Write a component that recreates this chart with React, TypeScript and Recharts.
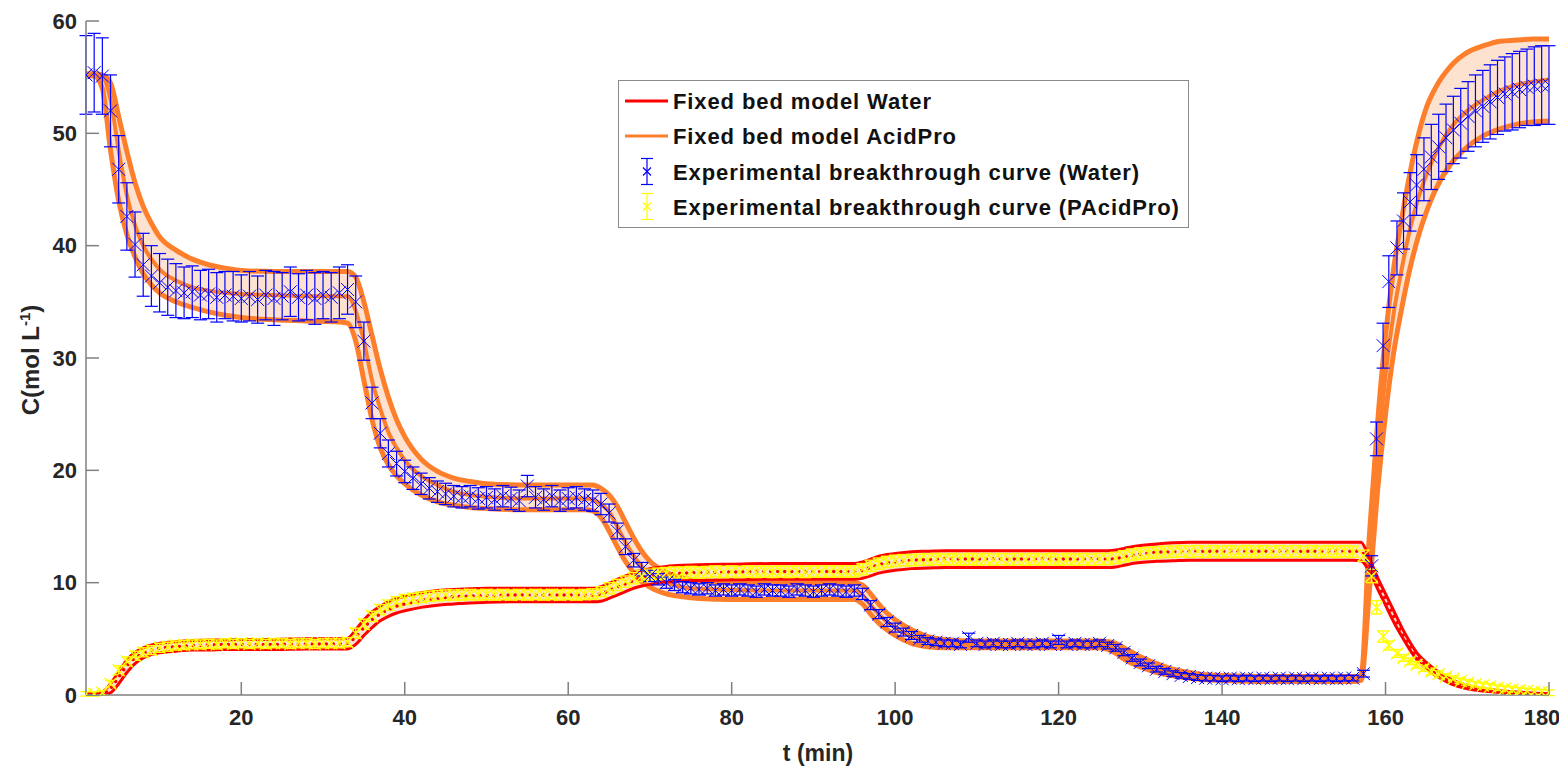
import React from "react";
import { ComposedChart, Line, Area, Scatter, ErrorBar, XAxis, YAxis } from "recharts";

// model time grid (min)
const tModel = [
  1, 2, 3, 4, 5, 6, 7, 8, 9, 10,
  12, 14, 16, 18, 20, 24, 28, 32, 33, 34,
  35, 36, 37, 38, 39, 40, 42, 44, 46, 48,
  50, 54, 58, 62, 63, 64, 65, 66, 67, 68,
  69, 70, 72, 74, 76, 80, 85, 90, 95, 96,
  97, 98, 99, 100, 102, 104, 106, 110, 115, 120,
  125, 126, 127, 128, 129, 130, 132, 134, 136, 138,
  142, 146, 150, 154, 156, 157, 158, 159, 160, 161,
  162, 163, 164, 165, 166, 168, 170, 172, 174, 176,
  178, 180,
];

// fixed bed model, water (orange band)
const wUp = [
  55.3, 55.3, 55.2, 54.5, 51.5, 48.4, 45.6, 43.5, 42.0, 40.8,
  39.6, 38.8, 38.3, 38.0, 37.8, 37.7, 37.7, 37.7, 37.7, 37.2,
  35.0, 32.0, 29.0, 26.5, 24.5, 23.0, 21.0, 19.9, 19.3, 19.0,
  18.8, 18.7, 18.7, 18.7, 18.7, 18.4, 17.8, 16.8, 15.4, 14.0,
  12.8, 11.9, 10.9, 10.4, 10.2, 10.05, 10.0, 10.0, 10.0, 9.8,
  9.0, 8.1, 7.3, 6.7, 5.8, 5.2, 4.95, 4.8, 4.8, 4.8,
  4.8, 4.75, 4.6, 4.2, 3.8, 3.4, 2.8, 2.3, 2.0, 1.8,
  1.7, 1.65, 1.65, 1.65, 1.65, 1.7, 14.0, 24.0, 32.0, 38.0,
  42.5, 46.5, 49.8, 52.3, 53.9, 56.0, 57.2, 57.8, 58.2, 58.3,
  58.4, 58.4,
];
const wMid = [
  55.2, 55.2, 55.0, 53.0, 48.5, 44.5, 41.8, 40.0, 38.8, 37.9,
  36.9, 36.3, 36.0, 35.8, 35.7, 35.6, 35.5, 35.5, 35.5, 34.2,
  31.5, 28.0, 25.5, 23.4, 22.0, 20.9, 19.5, 18.7, 18.1, 17.8,
  17.65, 17.5, 17.5, 17.5, 17.4, 17.0, 16.3, 15.0, 13.6, 12.4,
  11.4, 10.7, 10.0, 9.6, 9.45, 9.35, 9.3, 9.3, 9.3, 8.9,
  8.0, 7.2, 6.5, 6.0, 5.2, 4.8, 4.6, 4.5, 4.5, 4.5,
  4.5, 4.4, 4.1, 3.6, 3.2, 2.9, 2.3, 1.95, 1.7, 1.55,
  1.45, 1.4, 1.4, 1.4, 1.4, 1.5, 11.0, 21.0, 28.5, 34.0,
  38.0, 41.5, 44.2, 46.3, 48.0, 50.5, 52.0, 53.0, 53.8, 54.3,
  54.6, 54.8,
];
const wLow = [
  55.1, 55.1, 54.0, 48.5, 44.0, 41.0, 39.0, 37.5, 36.5, 35.8,
  35.0, 34.5, 34.1, 33.8, 33.6, 33.4, 33.3, 33.2, 33.1, 31.5,
  28.0, 24.5, 22.0, 20.5, 19.5, 18.8, 17.8, 17.2, 16.9, 16.7,
  16.6, 16.5, 16.5, 16.5, 16.4, 15.8, 14.6, 13.2, 11.9, 10.9,
  10.1, 9.6, 9.0, 8.75, 8.6, 8.5, 8.5, 8.5, 8.5, 8.1,
  7.2, 6.4, 5.8, 5.3, 4.6, 4.3, 4.2, 4.2, 4.2, 4.2,
  4.2, 4.05, 3.7, 3.2, 2.8, 2.5, 2.0, 1.7, 1.5, 1.35,
  1.25, 1.2, 1.2, 1.2, 1.2, 1.3, 9.0, 18.0, 25.0, 30.5,
  34.5, 38.0, 40.8, 43.0, 44.8, 47.3, 48.8, 49.8, 50.4, 50.8,
  51.0, 51.1,
];

// fixed bed model, AcidPro (red band)
const aUp = [
  0.2, 0.2, 0.3, 1.0, 2.1, 3.1, 3.8, 4.2, 4.45, 4.6,
  4.75, 4.85, 4.9, 4.9, 4.95, 4.95, 5.0, 5.0, 5.05, 5.8,
  6.7, 7.4, 7.9, 8.3, 8.6, 8.8, 9.1, 9.3, 9.4, 9.45,
  9.5, 9.5, 9.5, 9.5, 9.5, 9.65, 9.95, 10.3, 10.6, 10.9,
  11.1, 11.25, 11.45, 11.55, 11.6, 11.65, 11.7, 11.7, 11.7, 11.85,
  12.1, 12.35, 12.5, 12.6, 12.75, 12.8, 12.85, 12.85, 12.85, 12.85,
  12.85, 12.85, 12.9, 13.05, 13.2, 13.3, 13.45, 13.55, 13.6, 13.6,
  13.6, 13.6, 13.6, 13.6, 13.6, 13.6, 12.2, 10.5, 9.0, 7.5,
  6.0, 4.7, 3.6, 2.9, 2.3, 1.4, 0.85, 0.55, 0.38, 0.27,
  0.18, 0.12,
];
const aMid = [
  0.05, 0.05, 0.1, 0.6, 1.6, 2.6, 3.3, 3.7, 4.0, 4.15,
  4.3, 4.4, 4.45, 4.5, 4.5, 4.5, 4.55, 4.55, 4.6, 5.2,
  6.0, 6.7, 7.2, 7.6, 7.9, 8.1, 8.4, 8.6, 8.75, 8.8,
  8.85, 8.9, 8.9, 8.9, 8.9, 9.0, 9.3, 9.6, 9.9, 10.2,
  10.4, 10.55, 10.75, 10.85, 10.9, 10.95, 11.0, 11.0, 11.0, 11.1,
  11.35, 11.6, 11.75, 11.85, 12.0, 12.05, 12.1, 12.1, 12.1, 12.1,
  12.1, 12.1, 12.15, 12.3, 12.45, 12.55, 12.7, 12.75, 12.8, 12.8,
  12.8, 12.8, 12.8, 12.8, 12.8, 12.75, 11.6, 10.0, 8.5, 7.0,
  5.6, 4.3, 3.3, 2.6, 2.0, 1.2, 0.7, 0.45, 0.3, 0.2,
  0.12, 0.08,
];
const aLow = [
  0.0, 0.0, 0.0, 0.2, 1.0, 2.0, 2.8, 3.3, 3.6, 3.75,
  3.9, 4.0, 4.0, 4.05, 4.05, 4.05, 4.1, 4.1, 4.1, 4.5,
  5.3, 6.0, 6.6, 7.0, 7.3, 7.5, 7.8, 8.0, 8.1, 8.2,
  8.25, 8.3, 8.3, 8.3, 8.3, 8.35, 8.6, 8.9, 9.2, 9.5,
  9.7, 9.85, 10.05, 10.15, 10.2, 10.25, 10.3, 10.3, 10.3, 10.4,
  10.6, 10.85, 11.0, 11.1, 11.25, 11.3, 11.35, 11.35, 11.35, 11.35,
  11.35, 11.35, 11.4, 11.55, 11.7, 11.8, 11.9, 11.95, 12.0, 12.0,
  12.0, 12.0, 12.0, 12.0, 12.0, 11.95, 11.0, 9.5, 8.0, 6.5,
  5.2, 4.0, 3.0, 2.3, 1.8, 1.0, 0.55, 0.35, 0.22, 0.14,
  0.08, 0.05,
];

// experimental sampling times: every minute, then the recorded times of the final step
const tExp = [
  ...Array.from({ length: 156 }, (_, i) => i + 1),
  157.3, 158.3, 158.9, 159.7, 160.4, 161.4, 162.2, 163.0, 163.8, 164.7,
  165.6, 166.5, 167.4, 168.3, 169.2, 170.1, 171.0, 171.9, 172.8, 173.7,
  174.6, 175.5, 176.4, 177.3, 178.2, 179.1, 180.0,
];

// experimental breakthrough curve (Water)
const wExp = [
  55.2, 55.4, 55.1, 52.0, 46.8, 42.6, 40.1, 38.3, 37.3, 36.7,
  36.3, 36.0, 35.8, 35.9, 35.6, 35.7, 35.4, 35.6, 35.5, 35.3,
  35.5, 35.2, 35.6, 35.3, 35.5, 35.9, 35.4, 35.6, 35.3, 35.6,
  35.4, 35.8, 36.1, 35.0, 31.5, 26.0, 23.3, 21.5, 20.6, 19.9,
  19.3, 18.8, 18.4, 18.1, 17.9, 17.7, 17.6, 17.7, 17.5, 17.6,
  17.4, 17.7, 17.5, 17.3, 18.6, 17.6, 17.4, 17.7, 17.3, 17.5,
  17.6, 17.4, 17.3, 17.0, 16.2, 14.6, 13.2, 12.0, 11.2, 10.6,
  10.3, 10.0, 9.8, 9.6, 9.5, 9.4, 9.5, 9.3, 9.4, 9.3,
  9.4, 9.3, 9.2, 9.4, 9.3, 9.3, 9.2, 9.4, 9.3, 9.2,
  9.3, 9.4, 9.3, 9.2, 9.3, 9.0, 8.0, 7.2, 6.5, 6.0,
  5.6, 5.3, 5.0, 4.8, 4.7, 4.6, 4.6, 4.5, 5.1, 4.6,
  4.5, 4.6, 4.5, 4.5, 4.6, 4.5, 4.5, 4.6, 4.5, 4.9,
  4.5, 4.6, 4.5, 4.5, 4.6, 4.4, 4.2, 3.8, 3.3, 2.9,
  2.6, 2.3, 2.1, 1.9, 1.75, 1.65, 1.55, 1.5, 1.5, 1.45,
  1.5, 1.45, 1.5, 1.45, 1.5, 1.45, 1.5, 1.45, 1.5, 1.45,
  1.5, 1.45, 1.5, 1.45, 1.5, 1.5,
  1.9, 11.5, 22.8, 31.1, 36.8, 39.8, 42.2, 43.9, 45.4, 46.8,
  47.9, 48.8, 49.6, 50.3, 50.9, 51.5, 52.0, 52.4, 52.8, 53.2,
  53.5, 53.7, 53.9, 54.1, 54.2, 54.3, 54.3,
];
const wErr = [
  3.5, 3.5, 3.4, 3.2, 3.0, 3.0, 2.9, 2.8, 2.7, 2.6,
  2.5, 2.4, 2.3, 2.3, 2.2, 2.2, 2.2, 2.1, 2.2, 2.1,
  2.2, 2.1, 2.2, 2.4, 2.1, 2.2, 2.1, 2.2, 2.3, 2.1,
  2.2, 2.3, 2.2, 2.3, 1.7, 1.4, 1.3, 1.2, 1.1, 1.0,
  1.0, 0.95, 0.95, 0.95, 0.95, 0.95, 0.95, 0.95, 0.95, 0.95,
  0.95, 0.95, 1.0, 0.95, 0.95, 0.95, 0.95, 0.95, 0.95, 0.95,
  0.95, 0.95, 0.95, 0.95, 0.8, 0.7, 0.7, 0.6, 0.6, 0.5,
  0.5, 0.5, 0.5, 0.5, 0.5, 0.5, 0.5, 0.5, 0.5, 0.5,
  0.5, 0.5, 0.5, 0.5, 0.5, 0.5, 0.5, 0.5, 0.5, 0.5,
  0.5, 0.5, 0.5, 0.5, 0.5, 0.5, 0.4, 0.4, 0.4, 0.4,
  0.35, 0.35, 0.3, 0.3, 0.3, 0.3, 0.3, 0.3, 0.4, 0.3,
  0.3, 0.3, 0.3, 0.3, 0.3, 0.3, 0.3, 0.3, 0.3, 0.4,
  0.3, 0.3, 0.3, 0.3, 0.3, 0.3, 0.3, 0.3, 0.3, 0.3,
  0.25, 0.25, 0.25, 0.25, 0.25, 0.25, 0.25, 0.25, 0.25, 0.25,
  0.25, 0.25, 0.25, 0.25, 0.25, 0.25, 0.25, 0.25, 0.25, 0.25,
  0.25, 0.25, 0.25, 0.25, 0.25, 0.25,
  0.3, 0.9, 1.5, 2.0, 2.3, 2.4, 2.5, 2.6, 2.7, 2.8,
  2.9, 2.9, 3.0, 3.0, 3.1, 3.1, 3.2, 3.2, 3.3, 3.3,
  3.3, 3.4, 3.4, 3.4, 3.5, 3.5, 3.5,
];

// experimental breakthrough curve (PAcidPro)
const aExp = [
  0.1, 0.1, 0.2, 1.0, 2.2, 3.0, 3.5, 3.8, 4.0, 4.2,
  4.3, 4.4, 4.45, 4.5, 4.5, 4.55, 4.5, 4.6, 4.55, 4.6,
  4.55, 4.6, 4.55, 4.6, 4.6, 4.55, 4.6, 4.6, 4.55, 4.6,
  4.6, 4.6, 4.7, 5.5, 6.3, 7.0, 7.6, 8.0, 8.3, 8.5,
  8.6, 8.7, 8.8, 8.85, 8.9, 8.9, 8.9, 8.95, 8.9, 8.95,
  8.9, 8.95, 8.9, 8.95, 8.9, 8.95, 8.9, 8.95, 8.9, 8.95,
  8.9, 8.95, 9.0, 9.2, 9.5, 9.8, 10.1, 10.4, 10.6, 10.7,
  10.8, 10.85, 10.9, 10.9, 10.95, 10.9, 10.95, 11.0, 10.95, 11.0,
  10.95, 11.0, 10.95, 11.0, 10.95, 11.0, 10.95, 11.0, 10.95, 11.0,
  11.0, 11.0, 11.0, 11.0, 11.0, 11.2, 11.5, 11.7, 11.85, 11.95,
  12.0, 12.0, 12.05, 12.05, 12.1, 12.05, 12.1, 12.05, 12.1, 12.05,
  12.1, 12.05, 12.1, 12.05, 12.1, 12.05, 12.1, 12.05, 12.1, 12.05,
  12.1, 12.05, 12.1, 12.05, 12.1, 12.1, 12.2, 12.35, 12.5, 12.6,
  12.65, 12.7, 12.75, 12.75, 12.8, 12.75, 12.8, 12.75, 12.8, 12.75,
  12.8, 12.75, 12.8, 12.75, 12.8, 12.75, 12.8, 12.75, 12.8, 12.75,
  12.8, 12.75, 12.8, 12.75, 12.8, 12.75,
  12.4, 10.6, 7.8, 5.2, 4.4, 3.7, 3.3, 3.0, 2.7, 2.4,
  2.1, 1.85, 1.65, 1.45, 1.25, 1.1, 0.95, 0.85, 0.75, 0.65,
  0.55, 0.5, 0.42, 0.36, 0.3, 0.25, 0.2,
];
const aErr = [
  0.2, 0.2, 0.2, 0.3, 0.4, 0.4, 0.4, 0.4, 0.4, 0.4,
  0.4, 0.4, 0.4, 0.4, 0.4, 0.4, 0.4, 0.4, 0.4, 0.4,
  0.4, 0.4, 0.4, 0.4, 0.4, 0.4, 0.4, 0.4, 0.4, 0.4,
  0.4, 0.4, 0.4, 0.45, 0.45, 0.45, 0.45, 0.45, 0.45, 0.45,
  0.45, 0.45, 0.45, 0.45, 0.45, 0.45, 0.45, 0.45, 0.45, 0.45,
  0.45, 0.45, 0.45, 0.45, 0.45, 0.45, 0.45, 0.45, 0.45, 0.45,
  0.45, 0.45, 0.45, 0.45, 0.5, 0.5, 0.5, 0.5, 0.5, 0.5,
  0.5, 0.5, 0.5, 0.5, 0.5, 0.5, 0.5, 0.5, 0.5, 0.5,
  0.5, 0.5, 0.5, 0.5, 0.5, 0.5, 0.5, 0.5, 0.5, 0.5,
  0.5, 0.5, 0.5, 0.5, 0.5, 0.5, 0.5, 0.5, 0.5, 0.5,
  0.5, 0.5, 0.5, 0.5, 0.5, 0.5, 0.5, 0.5, 0.5, 0.5,
  0.5, 0.5, 0.5, 0.5, 0.5, 0.5, 0.5, 0.5, 0.5, 0.5,
  0.5, 0.5, 0.5, 0.5, 0.5, 0.5, 0.5, 0.5, 0.5, 0.5,
  0.5, 0.5, 0.5, 0.5, 0.5, 0.5, 0.5, 0.5, 0.5, 0.5,
  0.5, 0.5, 0.5, 0.5, 0.5, 0.5, 0.5, 0.5, 0.5, 0.5,
  0.5, 0.5, 0.5, 0.5, 0.5, 0.5,
  0.5, 0.6, 0.6, 0.5, 0.4, 0.35, 0.3, 0.3, 0.3, 0.3,
  0.3, 0.3, 0.25, 0.25, 0.25, 0.25, 0.25, 0.25, 0.25, 0.25,
  0.25, 0.25, 0.25, 0.25, 0.25, 0.25, 0.25,
];

const xTicks = [20, 40, 60, 80, 100, 120, 140, 160, 180];
const yTicks = [0, 10, 20, 30, 40, 50, 60];

const ORANGE = "#fd7f2c";
const RED = "#ff0000";
const BLUE = "#0000ff";
const YELLOW = "#ffff00";
const PEACH = "#fde2cf";
const FONT = "'Liberation Sans', Arial, sans-serif";

const modelRows = tModel.map((t, i) => ({
  t,
  wUp: wUp[i],
  wMid: wMid[i],
  wLow: wLow[i],
  wBand: [wLow[i], wUp[i]],
  aUp: aUp[i],
  aMid: aMid[i],
  aLow: aLow[i],
  aBand: [aLow[i], aUp[i]],
}));
const waterRows = tExp.map((t, i) => ({ t, v: wExp[i], e: wErr[i] }));
const acidRows = tExp.map((t, i) => ({ t, v: aExp[i], e: aErr[i] }));

const cross = (color: string, r: number, w: number) => (props: any) => {
  const { cx, cy } = props;
  if (cx == null || cy == null) return <g />;
  return (
    <path
      d={`M${cx - r},${cy - r}L${cx + r},${cy + r}M${cx - r},${cy + r}L${cx + r},${cy - r}`}
      stroke={color}
      strokeWidth={w}
      fill="none"
    />
  );
};

const tickStyle = { fill: "#262626", fontSize: 22, fontWeight: 700, fontFamily: FONT };

// x tick labels; the last one is nudged so it stays inside the page
function XTick(props: any) {
  const { x, y, payload } = props;
  const last = payload.value === 180;
  return (
    <text x={last ? x - 7 : x} y={y} dy="0.71em" textAnchor="middle" {...tickStyle}>
      {payload.value}
    </text>
  );
}

function YTitle() {
  return (
    <text
      x={0}
      y={0}
      transform="translate(31,352) rotate(-90)"
      textAnchor="middle"
      fill="#262626"
      fontFamily={FONT}
      fontWeight={700}
      fontSize={24}
    >
      C(mol L<tspan dy={-9} fontSize={15}>-1</tspan>
      <tspan dy={9}>)</tspan>
    </text>
  );
}

function XTitle() {
  return (
    <text x={810} y={753} textAnchor="middle" fill="#262626" fontFamily={FONT} fontWeight={700} fontSize={23}>
      t (min)
    </text>
  );
}

const legendRows = [
  { label: "Fixed bed model Water", kind: "line", color: RED },
  { label: "Fixed bed model AcidPro", kind: "line", color: ORANGE },
  { label: "Experimental breakthrough curve (Water)", kind: "err", color: BLUE },
  { label: "Experimental breakthrough curve (PAcidPro)", kind: "err", color: YELLOW },
];

function LegendBox() {
  const ys = [21, 56, 91.5, 126.5];
  return (
    <svg
      width={571}
      height={148}
      style={{ position: "absolute", left: 610, top: 72, background: "#fff" }}
    >
      <rect x={0.5} y={0.5} width={570} height={147} fill="#fff" stroke="#8a8a8a" strokeWidth={1} />
      {legendRows.map((r, i) => (
        <g key={r.label}>
          {r.kind === "line" ? (
            <line x1={7} x2={50} y1={ys[i]} y2={ys[i]} stroke={r.color} strokeWidth={3} />
          ) : (
            <g stroke={r.color} strokeWidth={1.2} fill="none">
              <line x1={29} x2={29} y1={ys[i] - 13} y2={ys[i] + 13} />
              <line x1={23} x2={35} y1={ys[i] - 13} y2={ys[i] - 13} />
              <line x1={23} x2={35} y1={ys[i] + 13} y2={ys[i] + 13} />
              <path d={`M25,${ys[i] - 4}L33,${ys[i] + 4}M25,${ys[i] + 4}L33,${ys[i] - 4}`} />
            </g>
          )}
          <text
            x={55}
            y={ys[i] + 8}
            fill="#111"
            fontFamily={FONT}
            fontWeight={700}
            fontSize={22}
            letterSpacing={0.9}
          >
            {r.label}
          </text>
        </g>
      ))}
    </svg>
  );
}

export default function App() {
  return (
    <div style={{ position: "relative", width: 1559, height: 762, background: "#fff" }}>
      <ComposedChart width={1559} height={762} margin={{ top: 13, right: 18, bottom: 7, left: 0 }}>
        <XAxis
          dataKey="t"
          type="number"
          domain={[1, 180]}
          ticks={xTicks}
          interval={0}
          allowDataOverflow
          height={68}
          stroke="#808080"
          strokeWidth={1.5}
          tickSize={-13}
          tickMargin={27}
          tick={<XTick />}
          label={<XTitle />}
        />
        <YAxis
          type="number"
          domain={[0, 60]}
          ticks={yTicks}
          interval={0}
          allowDataOverflow
          width={78}
          stroke="#808080"
          strokeWidth={1.5}
          tickSize={-13}
          tickMargin={22}
          tick={tickStyle}
          label={<YTitle />}
        />

        <Area data={modelRows} dataKey="wBand" type="monotone" fill={PEACH} fillOpacity={1} stroke="none" isAnimationActive={false} />
        <Area data={modelRows} dataKey="aBand" type="monotone" fill={PEACH} fillOpacity={1} stroke="none" isAnimationActive={false} />

        <Line data={modelRows} dataKey="wUp" type="monotone" stroke={ORANGE} strokeWidth={5} dot={false} isAnimationActive={false} />
        <Line data={modelRows} dataKey="wLow" type="monotone" stroke={ORANGE} strokeWidth={5} dot={false} isAnimationActive={false} />
        <Line data={modelRows} dataKey="wMid" type="monotone" stroke={ORANGE} strokeWidth={4} dot={false} isAnimationActive={false} />

        <Line data={modelRows} dataKey="aUp" type="monotone" stroke={RED} strokeWidth={3} dot={false} isAnimationActive={false} />
        <Line data={modelRows} dataKey="aLow" type="monotone" stroke={RED} strokeWidth={3} dot={false} isAnimationActive={false} />

        <Scatter data={acidRows} dataKey="v" shape={cross(YELLOW, 6, 1.4)} isAnimationActive={false}>
          <ErrorBar dataKey="e" direction="y" width={5.5} stroke={YELLOW} strokeWidth={1.4} />
        </Scatter>
        <Line
          data={modelRows}
          dataKey="aMid"
          type="monotone"
          stroke={RED}
          strokeWidth={3.5}
          strokeDasharray="0 7"
          strokeLinecap="round"
          dot={false}
          isAnimationActive={false}
        />
        <Scatter data={waterRows} dataKey="v" shape={cross(BLUE, 6.5, 1)} isAnimationActive={false}>
          <ErrorBar dataKey="e" direction="y" width={6.5} stroke={BLUE} strokeWidth={1.2} />
        </Scatter>
      </ComposedChart>
      <LegendBox />
    </div>
  );
}
